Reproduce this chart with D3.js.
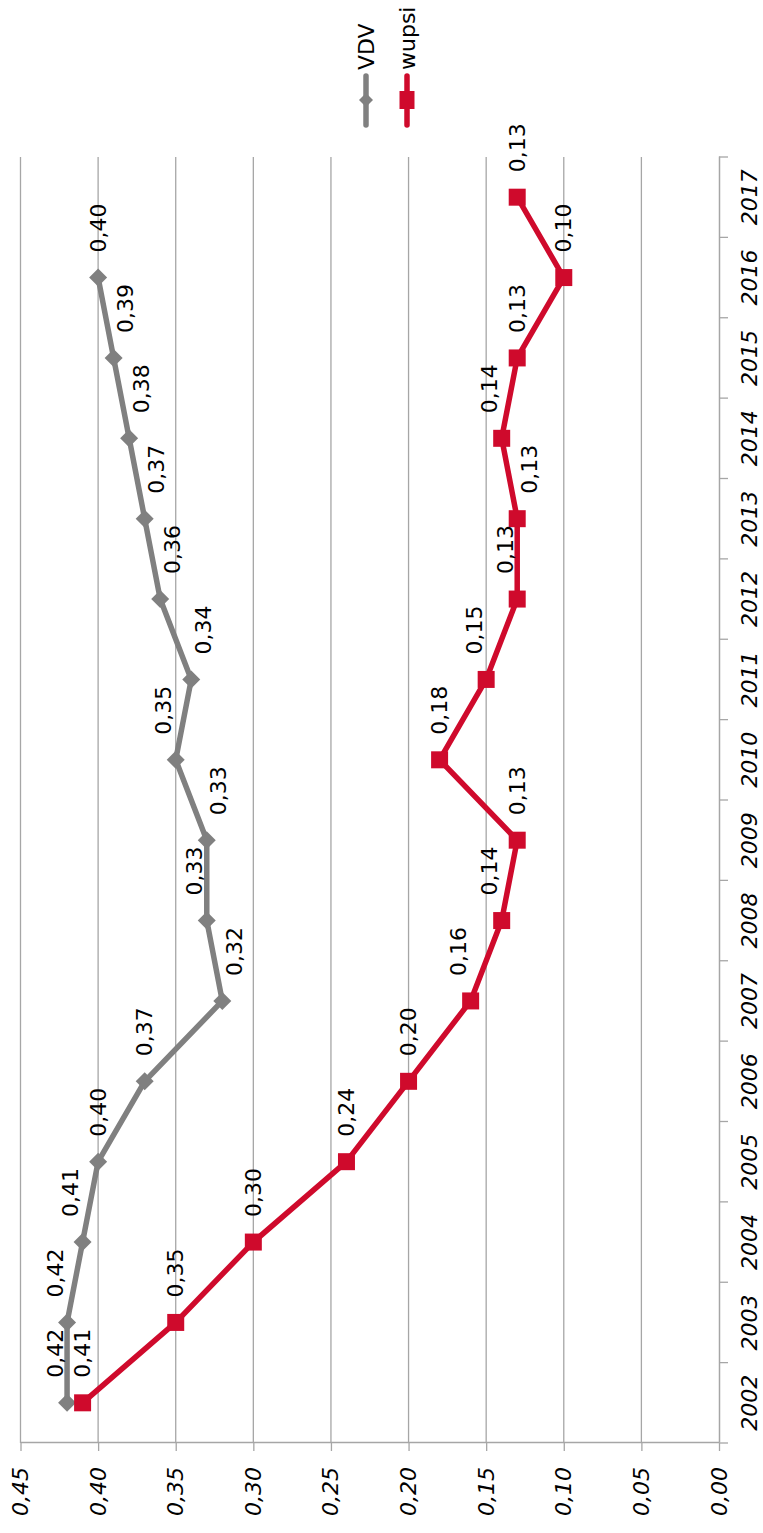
<!DOCTYPE html>
<html>
<head>
<meta charset="utf-8">
<script src="https://cdn.jsdelivr.net/npm/d3@7"></script>
<style>
  body { margin: 0; background: #fff; }
  text { font-family: "DejaVu Sans", Verdana, sans-serif; font-size: 22px; fill: #000; }
</style>
</head>
<body>
<script>
'use strict';

// chart data
const years = [2002, 2003, 2004, 2005, 2006, 2007, 2008, 2009, 2010, 2011, 2012, 2013, 2014, 2015, 2016, 2017];
const vdv   = [0.42, 0.42, 0.41, 0.40, 0.37, 0.32, 0.33, 0.33, 0.35, 0.34, 0.36, 0.37, 0.38, 0.39, 0.40, null];
const wupsi = [0.41, 0.35, 0.30, 0.24, 0.20, 0.16, 0.14, 0.13, 0.18, 0.15, 0.13, 0.13, 0.14, 0.13, 0.10, 0.13];
const valueTicks = [0, 0.05, 0.10, 0.15, 0.20, 0.25, 0.30, 0.35, 0.40, 0.45];
const seriesNames = ["VDV", "wupsi"];

const W = 763, H = 1533;          // page size
const colors = {VDV: "#808080", wupsi: "#cf0a2c"};
const fmt = (d) => d3.format(".2f")(d).replace(".", ",");

// the chart is drawn as a normal line chart and turned 90 degrees
const svg = d3.select("body").append("svg")
    .attr("width", W)
    .attr("height", H);

const g = svg.append("g")
    .attr("transform", `translate(0,${H}) rotate(-90)`);

const plot = {left: 90, right: 1376, top: 20.5, bottom: 719};

const x = d3.scaleBand().domain(years).range([plot.left, plot.right]);
const y = d3.scaleLinear().domain([0, 0.45]).range([plot.bottom, plot.top]);
const cx = (yr) => x(yr) + x.bandwidth() / 2;

// gridlines
g.append("g").selectAll("line")
    .data(valueTicks.filter((d) => d > 0))
  .enter().append("line")
    .attr("x1", plot.left).attr("x2", plot.right)
    .attr("y1", (d) => y(d)).attr("y2", (d) => y(d))
    .attr("stroke", "#a6a6a6").attr("stroke-width", 1.3);

// value axis
const yAxis = g.append("g")
    .attr("transform", `translate(${plot.left},0)`)
    .call(d3.axisLeft(y).tickValues(valueTicks).tickSize(8).tickSizeOuter(0)
      .tickPadding(16).tickFormat(fmt));
yAxis.select(".domain").attr("stroke", "#a6a6a6").attr("stroke-width", 1.5);
yAxis.selectAll(".tick line").attr("stroke", "#a6a6a6").attr("stroke-width", 1.3);
yAxis.selectAll("text")
    .style("font-size", "22px")
    .style("font-style", "italic")
    .attr("fill", "#000");

// category axis
const xAxis = g.append("g")
    .attr("transform", `translate(0,${plot.bottom})`)
    .call(d3.axisBottom(x).tickSize(0).tickPadding(22).tickSizeOuter(0));
xAxis.select(".domain").attr("stroke", "#a6a6a6").attr("stroke-width", 1.5);
xAxis.selectAll("text")
    .style("font-size", "22px")
    .style("font-style", "italic")
    .attr("fill", "#000");
xAxis.append("g").selectAll("line")
    .data(years.map((d) => x(d)).concat([plot.right]))
  .enter().append("line")
    .attr("x1", (d) => d).attr("x2", (d) => d)
    .attr("y1", 0).attr("y2", 9)
    .attr("stroke", "#a6a6a6").attr("stroke-width", 1.3);

// series
const series = [
  {name: "VDV", values: vdv},
  {name: "wupsi", values: wupsi}
].map((s) => ({
  name: s.name,
  points: years.map((yr, i) => ({year: yr, value: s.values[i]})).filter((p) => p.value != null)
}));

const line = d3.line().x((d) => cx(d.year)).y((d) => y(d.value));

const diamond = "M0,-9L9,0L0,9L-9,0Z";
const square = "M-8.5,-8.5H8.5V8.5H-8.5Z";

// labels sit after the point; when the next segment runs through
// the label it is pushed to the other side of that segment
const labelGap = 25, labelLen = 49, labelHalf = 8, lineHalf = 2.75;
function labelShift(points, i) {
  const p = points[i], next = points[i + 1];
  if (!next) return 0;
  const x0 = cx(p.year), y0 = y(p.value), x1 = cx(next.year), y1 = y(next.value);
  const at = (xx) => y0 + (y1 - y0) * (xx - x0) / (x1 - x0);
  const ya = at(x0 + labelGap), yb = at(x0 + labelGap + labelLen);
  const lo = Math.min(ya, yb) - lineHalf, hi = Math.max(ya, yb) + lineHalf;
  const dir = y1 < y0 ? 1 : -1;
  const tries = [0, 12 * dir, 20 * dir, -12 * dir, -20 * dir];
  for (const s of tries) {
    if (y0 + s + labelHalf < lo || y0 + s - labelHalf > hi) return s;
  }
  return 0;
}

series.forEach((s) => {
  const c = colors[s.name];
  g.append("path")
      .datum(s.points)
      .attr("fill", "none")
      .attr("stroke", c)
      .attr("stroke-width", 5.5)
      .attr("stroke-linejoin", "round")
      .attr("d", line);

  g.append("g").selectAll("path")
      .data(s.points)
    .enter().append("path")
      .attr("transform", (d) => `translate(${cx(d.year)},${y(d.value)})`)
      .attr("d", s.name === "VDV" ? diamond : square)
      .attr("fill", c);

  g.append("g").selectAll("text")
      .data(s.points)
    .enter().append("text")
      .attr("x", (d) => cx(d.year) + labelGap)
      .attr("y", (d, i) => y(d.value) + labelShift(s.points, i))
      .attr("dominant-baseline", "central")
      .text((d) => fmt(d.value));
});

// legend
const legend = g.append("g").selectAll("g")
    .data(seriesNames)
  .enter().append("g")
    .attr("transform", (d, i) => `translate(1408,${366 + i * 41})`);

legend.append("line")
    .attr("x1", 0).attr("x2", 49)
    .attr("y1", 0).attr("y2", 0)
    .attr("stroke", (d) => colors[d])
    .attr("stroke-width", 5.5)
    .attr("stroke-linecap", "round");

legend.append("path")
    .attr("transform", "translate(25,0)")
    .attr("d", (d) => d === "VDV" ? "M0,-7L7,0L0,7L-7,0Z" : "M-9,-7.5H9V7.5H-9Z")
    .attr("fill", (d) => colors[d]);

legend.append("text")
    .attr("x", 55)
    .attr("y", 0)
    .attr("dominant-baseline", "central")
    .text((d) => d);
</script>
</body>
</html>
